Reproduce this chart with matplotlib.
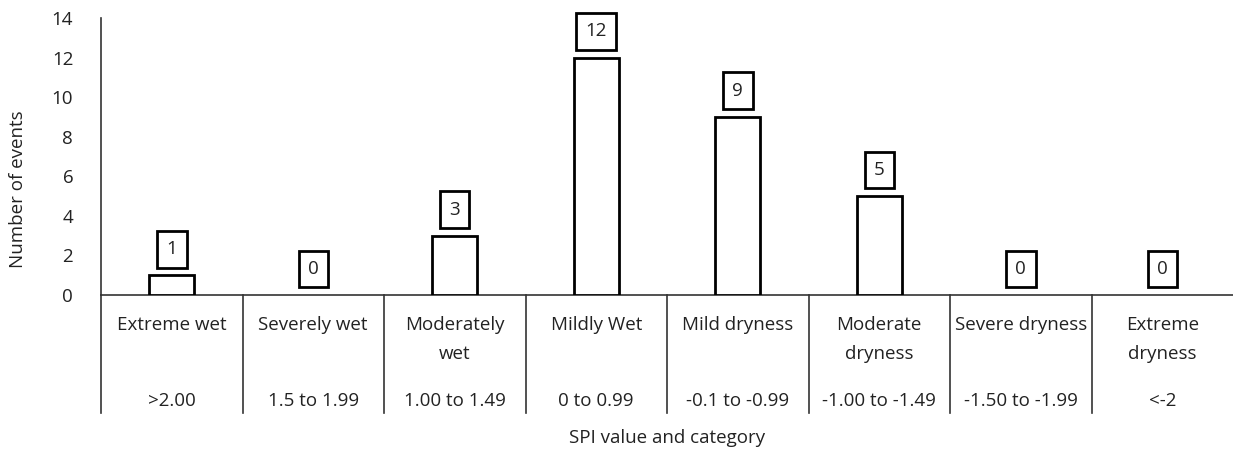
import numpy as np
import matplotlib
matplotlib.use("Agg")
import matplotlib.pyplot as plt
from matplotlib.transforms import blended_transform_factory

plt.rcParams["font.family"] = ["Open Sans", "DejaVu Sans"]

categories = ["Extreme wet", "Severely wet", "Moderately\nwet", "Mildly Wet",
              "Mild dryness", "Moderate\ndryness", "Severe dryness", "Extreme\ndryness"]
spi_ranges = [">2.00", "1.5 to 1.99", "1.00 to 1.49", "0 to 0.99",
              "-0.1 to -0.99", "-1.00 to -1.49", "-1.50 to -1.99", "<-2"]
events = [1, 0, 3, 12, 9, 5, 0, 0]

FS = 13.5
TXT = "#222222"

fig = plt.figure(figsize=(12.33, 4.5), dpi=100)
ax = fig.add_axes([101 / 1233, 1 - 295 / 450, 1 - 101 / 1233, 277 / 450])

x = np.arange(len(categories))
# zero-height bars have no visible outline in the original
ax.bar(x, events, width=0.32, color="white", edgecolor="black",
       linewidth=[2 if v else 0 for v in events], zorder=3)

for xi, v in zip(x, events):
    ax.annotate(str(v), (xi, v), xytext=(0, 12.3), textcoords="offset points",
                ha="center", va="bottom", fontsize=FS, color=TXT,
                bbox=dict(boxstyle="square,pad=0.5", fc="white", ec="black", lw=2))

ax.set_xlim(-0.5, len(categories) - 0.5)
ax.set_ylim(0, 14)
ax.set_yticks(range(0, 15, 2))
ax.tick_params(axis="y", length=0, pad=20, labelsize=FS, labelcolor=TXT)
ax.set_xticks([])
for s in ["top", "right"]:
    ax.spines[s].set_visible(False)
for s in ["left", "bottom"]:
    ax.spines[s].set_color("#333333")
    ax.spines[s].set_linewidth(1.2)

# multi-level category axis below the bars
trans = blended_transform_factory(ax.transData, ax.transAxes)
px = 1 / 277
for i in range(len(categories)):
    ax.plot([i - 0.5, i - 0.5], [0, -118 * px], color="#333333", lw=1.2,
            transform=trans, clip_on=False)
for xi, name, rng in zip(x, categories, spi_ranges):
    ax.text(xi, -21 * px, name, transform=trans, ha="center", va="top",
            fontsize=FS, color=TXT, linespacing=1.82)
    ax.text(xi, -106 * px, rng, transform=trans, ha="center", va="center",
            fontsize=FS, color=TXT)

fig.text(667 / 1233, 1 - 438 / 450, "SPI value and category", ha="center",
         va="center", fontsize=FS, color=TXT)
fig.text(18 / 1233, 1 - 189 / 450, "Number of events", rotation=90,
         ha="center", va="center", fontsize=FS, color=TXT)

fig.savefig("out.png", dpi=100)
